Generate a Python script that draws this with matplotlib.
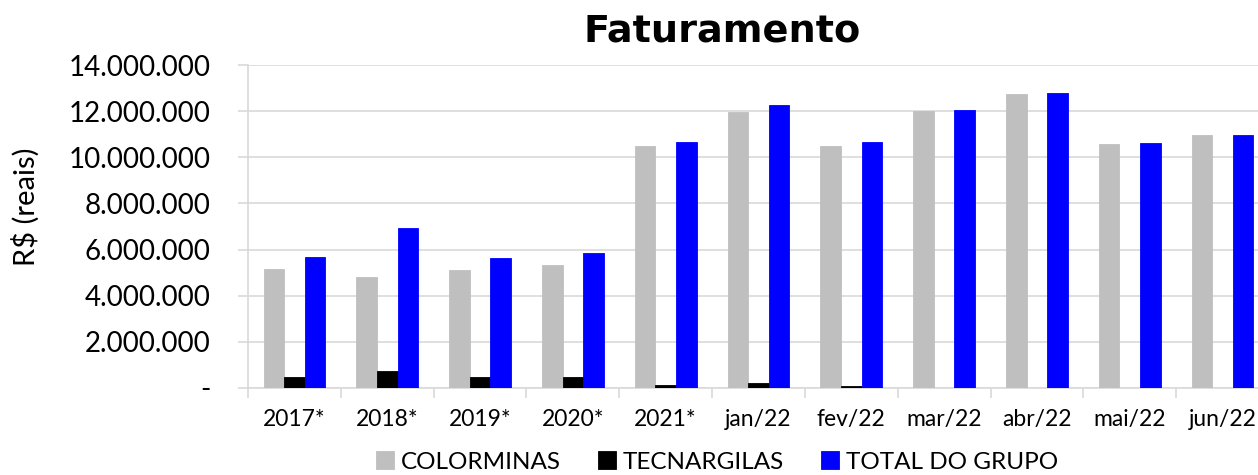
import matplotlib
matplotlib.use("Agg")
import matplotlib.pyplot as plt
import numpy as np
from matplotlib.ticker import FuncFormatter

categories = ["2017*", "2018*", "2019*", "2020*", "2021*", "jan/22", "fev/22",
              "mar/22", "abr/22", "mai/22", "jun/22"]
colorminas = [5140000, 4790000, 5100000, 5310000, 10470000, 11980000, 10500000,
              12000000, 12760000, 10580000, 10960000]
tecnargilas = [490000, 720000, 490000, 490000, 140000, 230000, 100000,
               20000, 0, 0, 0]
total_grupo = [5690000, 6930000, 5650000, 5860000, 10650000, 12250000, 10650000,
               12030000, 12770000, 10610000, 10970000]
series_names = ["COLORMINAS", "TECNARGILAS", "TOTAL DO GRUPO"]
colors = ["#BFBFBF", "#000000", "#0000FF"]
yticks = [0, 2000000, 4000000, 6000000, 8000000, 10000000, 12000000, 14000000]

plt.rcParams['font.family'] = ['Lato', 'DejaVu Sans']

W, H = 1258, 475
fig = plt.figure(figsize=(W / 100, H / 100), dpi=100)
ax_left, ax_right, ax_top, ax_bottom = 248, 1269, 65, 388
ax = fig.add_axes([ax_left / W, (H - ax_bottom) / H,
                   (ax_right - ax_left) / W, (ax_bottom - ax_top) / H])

x = np.arange(len(categories))
bw = 0.222
for i, (vals, name, c) in enumerate(zip([colorminas, tecnargilas, total_grupo],
                                         series_names, colors)):
    ax.bar(x + (i - 1) * bw, vals, width=bw, color=c, label=name,
           edgecolor=c, linewidth=0.6, zorder=3)

ax.set_xlim(-0.5, len(categories) - 0.5)
ax.set_ylim(0, 14000000)
ax.set_yticks(yticks)


def fmt(v, pos):
    if v == 0:
        return "-"
    return f"{int(v):,}".replace(",", ".")


ax.yaxis.set_major_formatter(FuncFormatter(fmt))
ax.grid(axis='y', color='#D9D9D9', linewidth=1.2, zorder=0)
ax.set_axisbelow(True)

ax.set_xticks(np.arange(len(categories) + 1) - 0.5)
ax.set_xticklabels([])
ax.set_xticks(x, minor=True)
ax.set_xticklabels(categories, minor=True, fontsize=16.5)
ax.tick_params(axis='x', which='major', length=7, color='#D9D9D9', width=1.2)
ax.tick_params(axis='x', which='minor', length=0, pad=15)
ax.tick_params(axis='y', length=7, color='#D9D9D9', width=1.2, labelsize=20, pad=20)

for s in ['top', 'right']:
    ax.spines[s].set_visible(False)
for s in ['left', 'bottom']:
    ax.spines[s].set_color('#D9D9D9')
    ax.spines[s].set_linewidth(1.2)

fig.text(26 / W, 1 - 207 / H, "R$ (reais)", rotation=90, ha='center', va='center',
         fontsize=21)
fig.text(722 / W, 1 - 32 / H, "Faturamento", ha='center', va='center',
         fontsize=27.5, fontweight='bold', family=['DejaVu Sans'])

leg = fig.legend(loc='center', bbox_to_anchor=(717 / W, 1 - 462 / H), ncol=3,
                 frameon=False, fontsize=17.5, handlelength=0.75, handleheight=0.75,
                 handletextpad=0.3, columnspacing=1.5, borderpad=0.1)

fig.savefig("out.png", dpi=100)
